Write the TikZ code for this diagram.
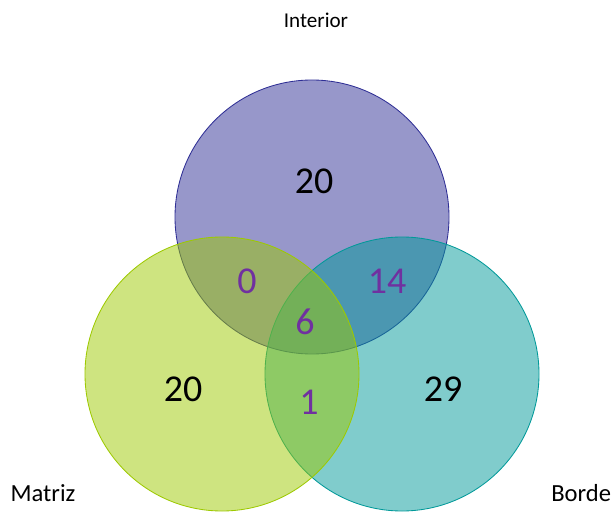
\documentclass[tikz,border=0pt]{standalone}
\usepackage{fontspec}
\setmainfont{Carlito}
\usepackage{tikz}
\usetikzlibrary{positioning}
\definecolor{intblue}{RGB}{47,47,149}
\definecolor{matgreen}{RGB}{157,201,1}
\definecolor{bortea}{RGB}{1,153,153}
\definecolor{numpurple}{RGB}{112,48,160}

\begin{document}
\begin{tikzpicture}[
    vset/.style={circle, minimum size=6.85cm, inner sep=0pt, fill opacity=0.5, draw opacity=1, line width=0.6pt},
    setlabel/.style={font=\fontsize{17.5}{20}\selectfont, text=black},
    count/.style={font=\fontsize{27}{30}\selectfont, text=black},
    shared/.style={font=\fontsize{27}{30}\selectfont, text=numpurple}
]
    \useasboundingbox (0,0) rectangle (15.35,12.775);

    % Sets
    \node[vset, draw=intblue, fill=intblue] (interior) at (7.8,7.35) {};
    \node[vset, draw=bortea, fill=bortea] (borde) at (10.05,3.425) {};
    \node[vset, draw=matgreen, fill=matgreen] (matriz) at (5.55,3.425) {};

    % Set names
    \node[setlabel, font=\fontsize{15}{18}\selectfont] (lint) at (7.9,12.275) {Interior};
    \node[setlabel] (lmat) at (1.075,0.45) {Matriz};
    \node[setlabel, anchor=west, inner sep=0pt] (lbor) at (13.775,0.45) {Borde};

    % Counts
    \node[count] (nint) at (7.85,8.25) {20};
    \node[count] (nmat) at (4.575,3.05) {20};
    \node[count] (nbor) at (11.075,3.05) {29};
    \node[shared] (nim) at (6.175,5.75) {0};
    \node[shared] (nib) at (9.675,5.75) {14};
    \node[shared] (nall) at (7.625,4.725) {6};
    \node[shared] (nmb) at (7.725,2.725) {1};
\end{tikzpicture}
\end{document}
